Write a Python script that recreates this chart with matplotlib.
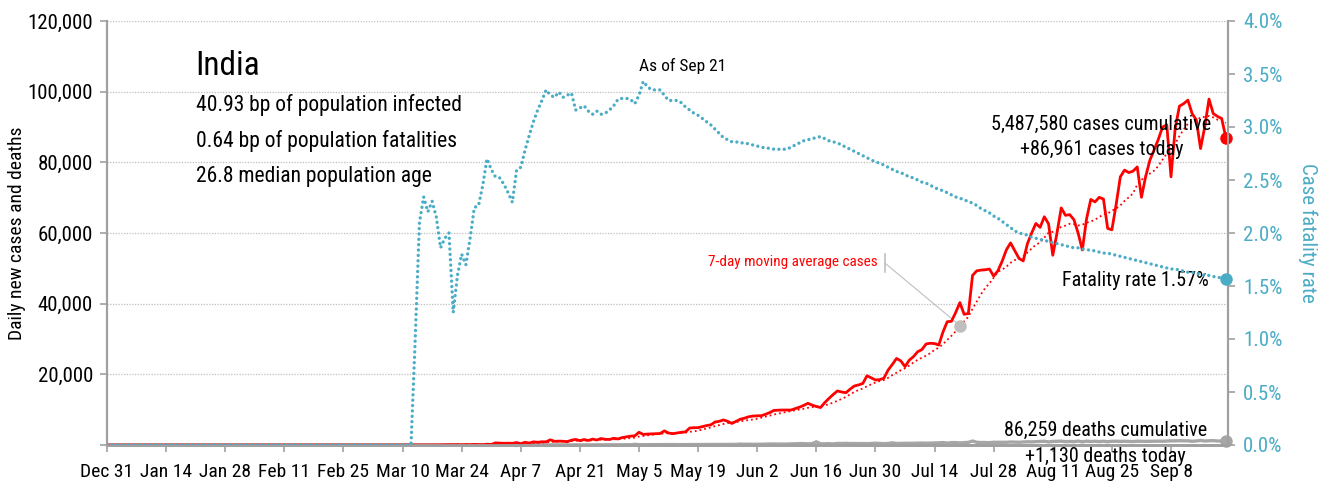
#!/usr/bin/env python3
# coding=utf-8

import numpy as np
import pandas as pd
import matplotlib
matplotlib.use("Agg")
import matplotlib.pyplot as plt
from matplotlib.ticker import MultipleLocator, FuncFormatter

plt.rcParams['font.family'] = ['Roboto Condensed', 'Liberation Sans Narrow', 'DejaVu Sans']

# daily new cases, Dec 31 .. Sep 21
cases_dec_feb = [0, 0, 0, 0, 0, 0, 0, 0, 0, 0, 0, 0, 0, 0, 0, 0, 0, 0, 0, 0,
                 0, 0, 0, 0, 0, 0, 0, 0, 0, 0, 1, 0, 0, 1, 1, 0, 0, 0, 0, 0,
                 0, 0, 0, 0, 0, 0, 0, 0, 0, 0, 0, 0, 0, 0, 0, 0, 0, 0, 0, 0, 0]
cases_mar = [0, 2, 1, 22, 2, 1, 3, 5, 4, 13, 6, 11, 9, 20, 11, 6, 23, 14, 38, 50,
             86, 66, 103, 37, 121, 70, 160, 100, 82, 227, 146]
cases_apr = [601, 545, 478, 516, 472, 693, 354, 773, 540, 896, 768, 918, 905, 1463, 1035,
             1097, 1061, 922, 1371, 1580, 1239, 1537, 1292, 1667, 1408, 1835, 1607, 1568, 1902, 1705]
cases_may = [2100, 2300, 2500, 2600, 3600, 3000, 3100, 3150, 3200, 3250, 4000, 3400, 3200,
             3400, 3600, 3700, 4800, 4900, 4900, 5200, 5500, 5700, 6500, 6700, 7100, 6700,
             6100, 6700, 7300, 7600, 8000]
cases_jun = [8200, 8250, 8300, 8700, 9200, 9800, 9850, 9900, 9900, 9900, 10300, 10700,
             11200, 11800, 11300, 10900, 10600, 12000, 13200, 14300, 15300, 15000, 14800,
             15800, 16700, 17000, 17400, 19600, 19000, 18400]
cases_jul = [18500, 18900, 21200, 22800, 24500, 23800, 22200, 24000, 25000, 26400, 27000,
             28600, 28800, 28700, 28300, 32000, 34900, 35000, 37500, 40300, 37000, 37200,
             48000, 49300, 49500, 49600, 49800, 47800, 49300, 52000, 55200]
cases_aug = [57200, 55000, 52800, 52100, 57000, 60000, 62700, 61600, 64600, 62600, 53700,
             60000, 67100, 65000, 65200, 63800, 60000, 55200, 64000, 69500, 68800, 70100,
             69600, 61300, 60900, 68000, 75900, 77800, 77100, 77500, 78700]
cases_sep = [70100, 76000, 80600, 83500, 86500, 90000, 90600, 75900, 89700, 95900, 96600,
             97600, 93800, 92000, 83900, 90100, 97900, 93800, 93000, 92400, 86961]

# daily deaths
deaths_dec_feb = [0] * 61
deaths_mar = [0, 0, 0, 0, 0, 0, 0, 0, 0, 0, 0, 1, 1, 0, 0, 0, 1, 0, 1, 0,
              1, 3, 2, 1, 2, 5, 3, 5, 2, 4, 11]
deaths_apr = [6, 20, 15, 13, 26, 12, 35, 26, 30, 30, 35, 34, 35, 29, 34, 42, 25, 26, 36, 36,
              50, 39, 42, 58, 40, 45, 48, 51, 68, 74]
deaths_may = [72, 84, 80, 194, 91, 103, 89, 104, 97, 111, 127, 121, 134, 103, 100, 120, 157,
              134, 140, 132, 134, 148, 137, 147, 146, 170, 194, 175, 265, 193, 230]
deaths_jun = [200, 204, 217, 260, 285, 297, 261, 265, 274, 331, 357, 396, 386, 325, 380, 900,
              341, 334, 375, 306, 445, 426, 465, 407, 418, 384, 410, 380, 418, 507]
deaths_jul = [434, 379, 442, 613, 425, 467, 482, 475, 487, 519, 551, 500, 553, 582, 606, 687,
              543, 671, 681, 587, 648, 740, 1129, 757, 705, 708, 654, 768, 775, 779, 764]
deaths_aug = [853, 803, 771, 857, 904, 886, 933, 1007, 1065, 871, 1007, 1059, 1092, 942, 1008,
              941, 1114, 887, 1092, 978, 1059, 956, 1066, 913, 1059, 1066, 1021, 1057, 1022,
              971, 1066]
deaths_sep = [1045, 1026, 1054, 1086, 1089, 1065, 1133, 1172, 1168, 1209, 1189, 1174, 1054,
              1136, 1290, 1132, 1174, 1247, 1130, 1133, 1130]

# case fatality rate (%)
cfr_dec_feb = [0.0] * 61
cfr_mar = [0.0, 0.0, 0.0, 0.0, 0.0, 0.0, 0.0, 0.0, 0.0, 0.0, 0.0, 0.0, 1.0, 2.1, 2.34,
           2.20, 2.30, 2.15, 1.86, 1.95, 2.0, 1.25, 1.6, 1.80, 1.70, 1.95, 2.24, 2.26,
           2.45, 2.70, 2.60]
cfr_apr = [2.53, 2.52, 2.46, 2.38, 2.29, 2.59, 2.62, 2.78, 2.92, 3.05, 3.16, 3.25, 3.35,
           3.30, 3.28, 3.33, 3.28, 3.30, 3.32, 3.16, 3.18, 3.20, 3.15, 3.12, 3.15, 3.12,
           3.13, 3.16, 3.20, 3.26]
cfr_may = [3.27, 3.27, 3.26, 3.22, 3.30, 3.43, 3.38, 3.35, 3.35, 3.35, 3.30, 3.25, 3.25,
           3.25, 3.23, 3.19, 3.16, 3.13, 3.11, 3.08, 3.05, 3.02, 2.98, 2.94, 2.90, 2.88,
           2.86, 2.86, 2.85, 2.85, 2.84]
cfr_jun = [2.83, 2.82, 2.81, 2.80, 2.80, 2.79, 2.79, 2.79, 2.79, 2.81, 2.83, 2.85, 2.87,
           2.88, 2.89, 2.90, 2.91, 2.89, 2.87, 2.86, 2.85, 2.83, 2.81, 2.79, 2.77, 2.75,
           2.73, 2.71, 2.69, 2.67]
cfr_jul = [2.66, 2.64, 2.62, 2.60, 2.58, 2.57, 2.55, 2.53, 2.52, 2.50, 2.48, 2.47, 2.45,
           2.43, 2.41, 2.40, 2.38, 2.36, 2.34, 2.33, 2.31, 2.30, 2.28, 2.26, 2.23, 2.21,
           2.19, 2.16, 2.14, 2.11, 2.08]
cfr_aug = [2.05, 2.02, 2.00, 1.99, 1.98, 1.96, 1.95, 1.94, 1.93, 1.92, 1.91, 1.90, 1.89,
           1.88, 1.87, 1.86, 1.86, 1.85, 1.84, 1.84, 1.83, 1.82, 1.81, 1.81, 1.80, 1.79,
           1.78, 1.77, 1.76, 1.75, 1.74]
cfr_sep = [1.73, 1.72, 1.71, 1.70, 1.69, 1.68, 1.67, 1.66, 1.66, 1.65, 1.64, 1.63, 1.63,
           1.62, 1.61, 1.60, 1.60, 1.59, 1.58, 1.58, 1.57]

stats = ["40.93 bp of population infected",
         "0.64 bp of population fatalities",
         "26.8 median population age"]

cases = np.array(cases_dec_feb + cases_mar + cases_apr + cases_may + cases_jun
                 + cases_jul + cases_aug + cases_sep, dtype=float)
deaths = np.array(deaths_dec_feb + deaths_mar + deaths_apr + deaths_may + deaths_jun
                  + deaths_jul + deaths_aug + deaths_sep, dtype=float)
cfr = np.array(cfr_dec_feb + cfr_mar + cfr_apr + cfr_may + cfr_jun
               + cfr_jul + cfr_aug + cfr_sep)
dates = pd.date_range("2019-12-31", periods=len(cases), freq="D")
ma7 = pd.Series(cases).rolling(7, min_periods=1).mean().values

RED = '#FF0000'
BLUE = '#4BACC6'
GRAY = '#A6A6A6'
AXIS = '#A0A0A0'

fig = plt.figure(figsize=(13.24, 4.87), dpi=100)
ax = fig.add_axes([107 / 1324, 1 - 445 / 487, 1121 / 1324, 424 / 487])
ax2 = ax.twinx()

ax.yaxis.grid(True, ls=(0, (1, 1.2)), color='#BFBFBF', lw=0.9)
ax.set_axisbelow(True)

ax.plot(dates, deaths, color=GRAY, lw=2.4, zorder=3, solid_joinstyle='round')
ax.plot(dates, ma7, color=RED, lw=1.3, ls=':', zorder=3)
ax.plot(dates, cases, color=RED, lw=2.0, zorder=4, solid_joinstyle='round')
ax2.plot(dates, cfr, color=BLUE, lw=2.4, ls=(0, (0.01, 1.6)),
         dash_capstyle='round', zorder=3)

# end markers
ax.plot(dates[-1], cases[-1], 'o', color=RED, ms=8, clip_on=False, zorder=6)
ax.plot(dates[-1], deaths[-1], 'o', color=GRAY, ms=8, clip_on=False, zorder=6)
ax2.plot(dates[-1], cfr[-1], 'o', color=BLUE, ms=8, clip_on=False, zorder=6)

ax.set_xlim(dates[0], dates[-1] + pd.Timedelta(hours=12))
ax.set_ylim(0, 120000)
ax2.set_ylim(0, 4.0)

ax.set_xticks(dates[::14])
ax.set_xticklabels([f"{d:%b} {d.day}" for d in dates[::14]])
ax.yaxis.set_major_locator(MultipleLocator(20000))
ax.yaxis.set_major_formatter(FuncFormatter(lambda v, p: '' if v == 0 else f"{v:,.0f}"))
ax2.yaxis.set_major_locator(MultipleLocator(0.5))
ax2.yaxis.set_major_formatter(FuncFormatter(lambda v, p: f"{v:.1f}%"))

for a in (ax, ax2):
    a.spines['top'].set_visible(False)
    a.spines['left'].set_color(AXIS)
    a.spines['right'].set_color(AXIS)
    a.spines['bottom'].set_color(AXIS)
    a.spines['left'].set_linewidth(1.5)
    a.spines['right'].set_linewidth(1.5)
    a.spines['bottom'].set_linewidth(2.0)

ax.tick_params(axis='x', colors=AXIS, labelcolor='black', labelsize=14,
               length=5, width=1.2, pad=8)
ax.tick_params(axis='y', colors=AXIS, labelcolor='black', labelsize=15,
               length=5, width=1.2, pad=5)
ax2.tick_params(axis='y', colors=AXIS, labelcolor=BLUE, labelsize=15,
                length=5, width=1.2, pad=6)

ax.set_ylabel('Daily new cases and deaths', fontsize=14)
ax.yaxis.set_label_coords(-0.072, 0.5)
ax2.set_ylabel('Case fatality rate', fontsize=15, color=BLUE, rotation=270, va='bottom')
ax2.yaxis.set_label_coords(1.062, 0.5)

# country block
ax.text(0.079, 0.894, 'India', transform=ax.transAxes, fontsize=24, va='center')
for i, s in enumerate(stats):
    ax.text(0.079, 0.802 - i * 0.084, s, transform=ax.transAxes, fontsize=15.5, va='center')

# peak label on the fatality rate line
peak = int(np.argmax(cfr))
ax2.annotate('As of Sep 21', xy=(dates[peak], cfr[peak]), xytext=(-3, 5),
             textcoords='offset points', ha='left', va='bottom', fontsize=12.5)

# moving average callout
k = 202
ax.annotate('', xy=(dates[k], ma7[k]), xytext=(0.694, 0.429), textcoords='axes fraction',
            arrowprops=dict(arrowstyle='-', color='#BFBFBF', lw=0.8, shrinkA=0, shrinkB=0))
ax.plot([0.694, 0.694], [0.408, 0.450], color='#BFBFBF', lw=1.2, transform=ax.transAxes)
ax.plot(dates[k], ma7[k], 'o', color='#BFBFBF', ms=8, zorder=6)
ax.text(0.687, 0.432, '7-day moving average cases', transform=ax.transAxes, ha='right',
        va='center', color=RED, fontsize=11)

# end-of-series labels
ax.text(0.887, 0.755, f"{5487580:,} cases cumulative", transform=ax.transAxes,
        ha='center', va='center', fontsize=14.5, zorder=7)
ax.text(0.887, 0.696, f"+{cases[-1]:,.0f} cases today", transform=ax.transAxes,
        ha='center', va='center', fontsize=14.5, zorder=7)
ax.text(0.983, 0.389, f"Fatality rate {cfr[-1]:.2f}%", transform=ax.transAxes,
        ha='right', va='center', fontsize=14.5, zorder=7)
ax.text(0.891, 0.035, f"{86259:,} deaths cumulative", transform=ax.transAxes,
        ha='center', va='center', fontsize=14.5, zorder=7)
ax.text(0.891, -0.026, f"+{deaths[-1]:,.0f} deaths today", transform=ax.transAxes,
        ha='center', va='center', fontsize=14.5, zorder=7)

plt.savefig('out.png', dpi=100)
